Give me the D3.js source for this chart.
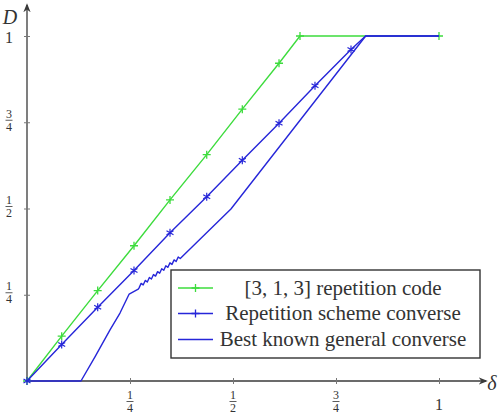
<!DOCTYPE html>
<html>
<head>
<meta charset="utf-8">
<script src="https://cdn.jsdelivr.net/npm/d3@7"></script>
<style>
  body { margin: 0; background: #fff; }
</style>
</head>
<body>
<svg id="chart"></svg>
<script>
// values
const repCodeDelta = [0, 0.0842, 0.1716, 0.2597, 0.3471, 0.4362, 0.5226, 0.6117, 0.6626, 1];
const repCodeD     = [0, 0.130, 0.262, 0.392, 0.525, 0.656, 0.788, 0.921, 1, 1];

const repConvDelta = [0, 0.0842, 0.1716, 0.2597, 0.3471, 0.4362, 0.5226, 0.6117, 0.699, 0.7864];
const repConvD     = [0, 0.106, 0.214, 0.320, 0.430, 0.534, 0.640, 0.747, 0.856, 0.961];
const repConvTailDelta = [0.7864, 0.822, 1];
const repConvTailD     = [0.961, 1, 1];

const genDelta = [0, 0.131, 0.165, 0.2015, 0.2257, 0.248, 0.270, 0.272,
  0.277, 0.282, 0.287, 0.292, 0.297, 0.302, 0.307, 0.312, 0.317, 0.322,
  0.327, 0.332, 0.337, 0.342, 0.347, 0.352, 0.357, 0.362, 0.367, 0.372,
  0.495, 0.822, 1];
const genD = [0, 0, 0.070, 0.148, 0.197, 0.252, 0.266, 0.270,
  0.283, 0.2785, 0.2915, 0.287, 0.300, 0.2955, 0.3085, 0.304, 0.317, 0.3125,
  0.3255, 0.321, 0.334, 0.3295, 0.3425, 0.338, 0.351, 0.3465, 0.3595, 0.355,
  0.4986, 1, 1];

const tickVals = [0.25, 0.5, 0.75, 1];
const tickLabels = ["1/4", "1/2", "3/4", "1"];

const legendLabels = ["[3, 1, 3] repetition code", "Repetition scheme converse", "Best known general converse"];

const width = 498, height = 419;
const green = "#3ddc3d", blue = "#2626d9", axisColor = "#3a3a3a";
const serif = "'Liberation Serif', 'Times New Roman', 'DejaVu Serif', serif";

const svg = d3.select("#chart").attr("width", width).attr("height", height);

const x = d3.scaleLinear().domain([0, 1]).range([27, 439]);
const y = d3.scaleLinear().domain([0, 1]).range([381, 36]);

// arrow head
svg.append("defs").append("marker")
    .attr("id", "arrow")
    .attr("viewBox", "0 0 10 10")
    .attr("refX", 8).attr("refY", 5)
    .attr("markerWidth", 7).attr("markerHeight", 7)
    .attr("orient", "auto")
  .append("path")
    .attr("d", "M0,1 L10,5 L0,9 L3,5 Z")
    .attr("fill", axisColor);

// axes lines
svg.append("line")
    .attr("x1", x(0)).attr("y1", y(0)).attr("x2", 486).attr("y2", y(0))
    .attr("stroke", axisColor).attr("stroke-width", 1.3)
    .attr("marker-end", "url(#arrow)");
svg.append("line")
    .attr("x1", x(0)).attr("y1", y(0)).attr("x2", x(0)).attr("y2", 5)
    .attr("stroke", axisColor).attr("stroke-width", 1.3)
    .attr("marker-end", "url(#arrow)");

// tick marks crossing the axes
const xAxis = svg.append("g")
    .attr("transform", `translate(0, ${y(0) - 3})`)
    .call(d3.axisBottom(x).tickValues(tickVals).tickSize(6).tickFormat(""));
const yAxis = svg.append("g")
    .attr("transform", `translate(${x(0) + 3}, 0)`)
    .call(d3.axisLeft(y).tickValues(tickVals).tickSize(6).tickFormat(""));
[xAxis, yAxis].forEach(g => {
  g.select(".domain").remove();
  g.selectAll(".tick line").attr("stroke", "#777").attr("stroke-width", 1);
});

function addText(g, tx, ty, str, size) {
  return g.append("text").attr("x", tx).attr("y", ty)
    .attr("text-anchor", "middle")
    .attr("font-family", serif).attr("font-size", size)
    .attr("fill", "#333").text(str);
}

// fraction-style tick labels
function drawLabel(g, label, cx, barY) {
  const parts = label.split("/");
  if (parts.length === 1) {
    addText(g, cx, barY + 8.5, label, 16);
    return;
  }
  addText(g, cx, barY - 2.5, parts[0], 12);
  g.append("line").attr("x1", cx - 3.5).attr("x2", cx + 3.5)
    .attr("y1", barY).attr("y2", barY)
    .attr("stroke", "#333").attr("stroke-width", 0.8);
  addText(g, cx, barY + 10.5, parts[1], 12);
}
const labels = svg.append("g");
tickVals.forEach((v, i) => {
  drawLabel(labels, tickLabels[i], x(v), 401.5);
  drawLabel(labels, tickLabels[i], 9, y(v) - 2);
});

addText(svg, 10, 24, "D", 20).attr("font-style", "italic");
addText(svg, 492, 390, "δ", 20).attr("font-style", "italic");

const line = d3.line().x(d => x(d[0])).y(d => y(d[1]));

function plus(g, px, py, color) {
  g.append("path").attr("d", `M${px - 4},${py}H${px + 4}M${px},${py - 4}V${py + 4}`)
    .attr("stroke", color).attr("stroke-width", 1.3).attr("fill", "none");
}
function star(g, px, py, color) {
  g.append("path")
    .attr("d", `M${px},${py - 4}V${py + 4}M${px - 3.5},${py - 2}L${px + 3.5},${py + 2}M${px - 3.5},${py + 2}L${px + 3.5},${py - 2}`)
    .attr("stroke", color).attr("stroke-width", 1.2).attr("fill", "none");
}

// [3,1,3] repetition code
const repCode = repCodeDelta.map((d, i) => [d, repCodeD[i]]);
svg.append("path").datum(repCode).attr("d", line)
  .attr("fill", "none").attr("stroke", green).attr("stroke-width", 1.4);
const gMarks = svg.append("g");
repCode.forEach(p => plus(gMarks, x(p[0]), y(p[1]), green));

// repetition scheme converse
const repConv = repConvDelta.map((d, i) => [d, repConvD[i]]);
const repTail = repConvTailDelta.map((d, i) => [d, repConvTailD[i]]);
svg.append("path").datum(repConv.concat(repTail.slice(1))).attr("d", line)
  .attr("fill", "none").attr("stroke", blue).attr("stroke-width", 1.4);
const bMarks = svg.append("g");
repConv.forEach(p => star(bMarks, x(p[0]), y(p[1]), blue));

// best known general converse
const gen = genDelta.map((d, i) => [d, genD[i]]);
svg.append("path").datum(gen).attr("d", line)
  .attr("fill", "none").attr("stroke", blue).attr("stroke-width", 1.4)
  .attr("stroke-linejoin", "round");

// legend
const lg = svg.append("g");
lg.append("rect").attr("x", 171).attr("y", 270).attr("width", 309).attr("height", 88)
  .attr("fill", "#fff").attr("stroke", "#333").attr("stroke-width", 1.4);
const rowY = [288, 313.5, 339.5];
const rowColor = [green, blue, blue];
legendLabels.forEach((t, i) => {
  lg.append("line").attr("x1", 178).attr("x2", 213).attr("y1", rowY[i]).attr("y2", rowY[i])
    .attr("stroke", rowColor[i]).attr("stroke-width", 1.4);
  if (i === 0) plus(lg, 195.5, rowY[i], green);
  if (i === 1) plus(lg, 195.5, rowY[i], blue);
  addText(lg, 343, rowY[i] + 6.5, t, 21);
});
</script>
</body>
</html>
